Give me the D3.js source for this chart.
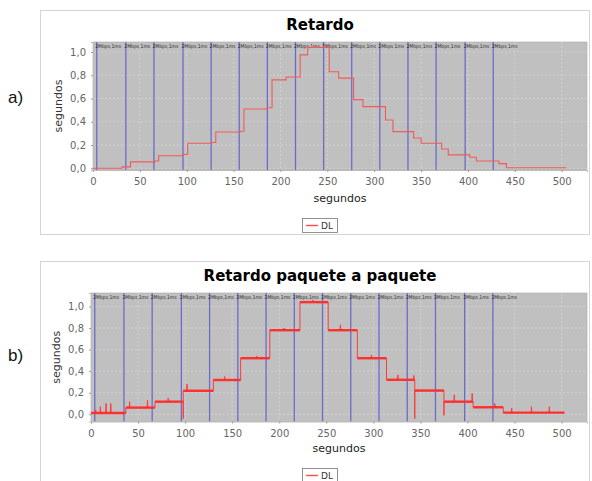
<!DOCTYPE html>
<html>
<head>
<meta charset="utf-8">
<script src="https://cdn.jsdelivr.net/npm/d3@7"></script>
<style>
  html, body { margin: 0; padding: 0; background: #ffffff; }
  svg { display: block; }
</style>
</head>
<body>
<svg id="chart" width="592" height="481"></svg>
<script>
// ---- data ----
const xTicks = [0, 50, 100, 150, 200, 250, 300, 350, 400, 450, 500];
const yTicks = [0, 0.2, 0.4, 0.6, 0.8, 1.0];

// link-change markers (seconds) and their label
const markerTimes = [4, 35, 65, 96, 126, 156, 186, 216, 246, 276, 306, 336, 366, 397, 427];
const markerLabel = "2Mbps,1ms";

// (a) averaged delay, step series [time s, delay s]
const delayA = [
  [0, 0.0], [31, 0.012], [40, 0.055], [66, 0.062], [70, 0.108], [96, 0.118],
  [101, 0.215], [126, 0.222], [131, 0.312], [157, 0.318], [161, 0.51], [186, 0.52],
  [191, 0.76], [206, 0.785], [221, 0.975], [229, 1.04], [252, 0.83], [262, 0.775],
  [278, 0.59], [288, 0.53], [312, 0.415], [320, 0.315], [342, 0.26], [350, 0.215],
  [372, 0.165], [379, 0.115], [402, 0.095], [409, 0.063], [433, 0.04], [441, 0.005],
  [505, 0.005]
];

// (b) packet-by-packet delay: plateaus [start, end, delay], spikes [time, peak], dips [time, low]
const levelsB = [
  [0, 37, 0.012], [37, 68, 0.062], [68, 98, 0.117], [98, 130, 0.218],
  [130, 159, 0.318], [159, 190, 0.52], [190, 222, 0.78], [222, 252, 1.04],
  [252, 283, 0.78], [283, 314, 0.52], [314, 344, 0.32], [344, 375, 0.22],
  [375, 406, 0.117], [406, 438, 0.065], [438, 503, 0.015]
];
const spikesB = [
  [5, 0.04], [10, 0.07], [16, 0.1], [21, 0.1], [41, 0.117], [60, 0.13], [82, 0.15],
  [102, 0.28], [142, 0.35], [176, 0.54], [205, 0.8], [236, 1.06], [265, 0.83],
  [298, 0.55], [326, 0.365], [343, 0.36], [386, 0.18], [405, 0.195], [429, 0.1],
  [447, 0.056], [468, 0.07], [487, 0.07]
];
const dipsB = [[98, -0.04], [344, -0.04], [375, -0.01]];

// ---- drawing ----
const svg = d3.select("#chart");
const FONT = "'DejaVu Sans', Verdana, sans-serif";

// panel frames and side letters
svg.append("rect").attr("x", 40.5).attr("y", 10.5).attr("width", 549).attr("height", 224)
  .attr("fill", "#fff").attr("stroke", "#d4d4d4");
svg.append("rect").attr("x", 40.5).attr("y", 261.5).attr("width", 549).attr("height", 230)
  .attr("fill", "#fff").attr("stroke", "#d4d4d4");
svg.append("text").attr("x", 8).attr("y", 103).text("a)")
  .attr("font-family", "'Liberation Sans', Arial, sans-serif").attr("font-size", 17).attr("fill", "#111");
svg.append("text").attr("x", 8).attr("y", 361).text("b)")
  .attr("font-family", "'Liberation Sans', Arial, sans-serif").attr("font-size", 17).attr("fill", "#111");

function drawPanel(cfg) {
  const g = svg.append("g");
  const x = d3.scaleLinear().domain([0, 527]).range([cfg.left, cfg.right]);
  const y = d3.scaleLinear().domain(cfg.yDomain).range([cfg.bottom, cfg.top]);

  // title
  g.append("text").attr("x", cfg.titleX).attr("y", cfg.titleY).attr("text-anchor", "middle")
    .attr("font-family", FONT).attr("font-weight", "bold").attr("font-size", 15)
    .attr("fill", "#000").text(cfg.title);

  // plot background
  g.append("rect").attr("x", cfg.left).attr("y", cfg.top)
    .attr("width", cfg.right - cfg.left).attr("height", cfg.bottom - cfg.top)
    .attr("fill", "#c0c0c0").attr("stroke", "#a8a8a8").attr("stroke-width", 0.6);

  // light grid
  const grid = g.append("g").attr("stroke", "#e6e6e6").attr("stroke-width", 0.6)
    .attr("stroke-dasharray", "2,2").attr("opacity", 0.8);
  grid.selectAll("line.gx").data(xTicks).join("line")
    .attr("x1", d => x(d)).attr("x2", d => x(d)).attr("y1", cfg.top).attr("y2", cfg.bottom);
  grid.selectAll("line.gy").data(yTicks).join("line")
    .attr("x1", cfg.left).attr("x2", cfg.right).attr("y1", d => y(d)).attr("y2", d => y(d));

  // markers
  g.append("g").selectAll("line").data(markerTimes).join("line")
    .attr("x1", d => x(d)).attr("x2", d => x(d))
    .attr("y1", cfg.top).attr("y2", cfg.bottom)
    .attr("stroke", "#6c6cc8").attr("stroke-width", 1.3);
  g.append("g").selectAll("text").data(markerTimes).join("text")
    .attr("x", d => x(d) - 1.5).attr("y", cfg.top + 6)
    .attr("font-family", "'DejaVu Sans Condensed', 'DejaVu Sans', sans-serif")
    .attr("font-size", 5).attr("fill", "#2a2a2a")
    .text(markerLabel);

  // axes
  const xAxis = d3.axisBottom(x).tickValues(xTicks).tickSize(2).tickPadding(6)
    .tickFormat(d3.format("d"));
  const ax = g.append("g").attr("transform", `translate(0,${cfg.bottom})`).call(xAxis);
  ax.select(".domain").attr("stroke", "#bbbbbb");
  ax.selectAll(".tick line").attr("stroke", "#999");
  ax.selectAll("text").attr("font-family", FONT).attr("font-size", 10).attr("fill", "#666");

  const yAxis = d3.axisLeft(y).tickValues(yTicks).tickSize(2).tickPadding(5)
    .tickFormat(d => d3.format(".1f")(d).replace(".", ","));
  const ay = g.append("g").attr("transform", `translate(${cfg.left},0)`).call(yAxis);
  ay.select(".domain").attr("stroke", "#bbbbbb");
  ay.selectAll(".tick line").attr("stroke", "#999");
  ay.selectAll("text").attr("font-family", FONT).attr("font-size", 10).attr("fill", "#666");

  // axis labels
  g.append("text").attr("x", (cfg.left + cfg.right) / 2).attr("y", cfg.xLabelY)
    .attr("text-anchor", "middle").attr("font-family", FONT).attr("font-size", 11)
    .attr("fill", "#222").text("segundos");
  g.append("text")
    .attr("transform", `translate(${cfg.yLabelX},${(cfg.top + cfg.bottom) / 2}) rotate(-90)`)
    .attr("text-anchor", "middle").attr("font-family", FONT).attr("font-size", 11)
    .attr("fill", "#333").text("segundos");

  // legend
  const lg = g.append("g");
  lg.append("rect").attr("x", 302.5).attr("y", cfg.legendY + 0.5).attr("width", 35).attr("height", 14)
    .attr("fill", "#fff").attr("stroke", "#777").attr("stroke-width", 0.8);
  lg.append("line").attr("x1", 306).attr("x2", 318).attr("y1", cfg.legendY + 7.5).attr("y2", cfg.legendY + 7.5)
    .attr("stroke", "#ff4a4a").attr("stroke-width", 1.4);
  lg.append("text").attr("x", 321).attr("y", cfg.legendY + 11)
    .attr("font-family", FONT).attr("font-size", 9).attr("fill", "#333").text("DL");

  return { g, x, y };
}

// (a) Retardo
const pa = drawPanel({
  left: 93, right: 587, top: 42, bottom: 170, yDomain: [-0.015, 1.086],
  title: "Retardo", titleX: 320, titleY: 30, xLabelY: 202, yLabelX: 62, legendY: 218
});
pa.g.append("path").datum(delayA)
  .attr("fill", "none").attr("stroke", "#f25a5a").attr("stroke-width", 1.1)
  .attr("d", d3.line().x(d => pa.x(d[0])).y(d => pa.y(d[1])).curve(d3.curveStepAfter));

// (b) Retardo paquete a paquete
const pb = drawPanel({
  left: 91, right: 587, top: 293, bottom: 421.5, yDomain: [-0.067, 1.125],
  title: "Retardo paquete a paquete", titleX: 320, titleY: 281, xLabelY: 452, yLabelX: 60, legendY: 468
});

// assemble the packet sequence from plateaus, spikes and dips
const packets = [];
levelsB.forEach(([s, e, v]) => {
  const dip = dipsB.find(d => d[0] === s);
  if (dip) packets.push([s, dip[1]]);
  packets.push([s, v]);
  spikesB.filter(p => p[0] > s && p[0] < e).forEach(([t, pk]) => {
    packets.push([t - 0.4, v], [t, pk], [t + 0.4, v]);
  });
  packets.push([e, v]);
});

pb.g.append("path").datum(packets)
  .attr("fill", "none").attr("stroke", "#ff3a3a").attr("stroke-width", 1)
  .attr("d", d3.line().x(d => pb.x(d[0])).y(d => pb.y(d[1])));
pb.g.append("g").selectAll("line").data(levelsB).join("line")
  .attr("x1", d => pb.x(d[0])).attr("x2", d => pb.x(d[1]))
  .attr("y1", d => pb.y(d[2])).attr("y2", d => pb.y(d[2]))
  .attr("stroke", "#ff3030").attr("stroke-width", 2.4);
</script>
</body>
</html>
